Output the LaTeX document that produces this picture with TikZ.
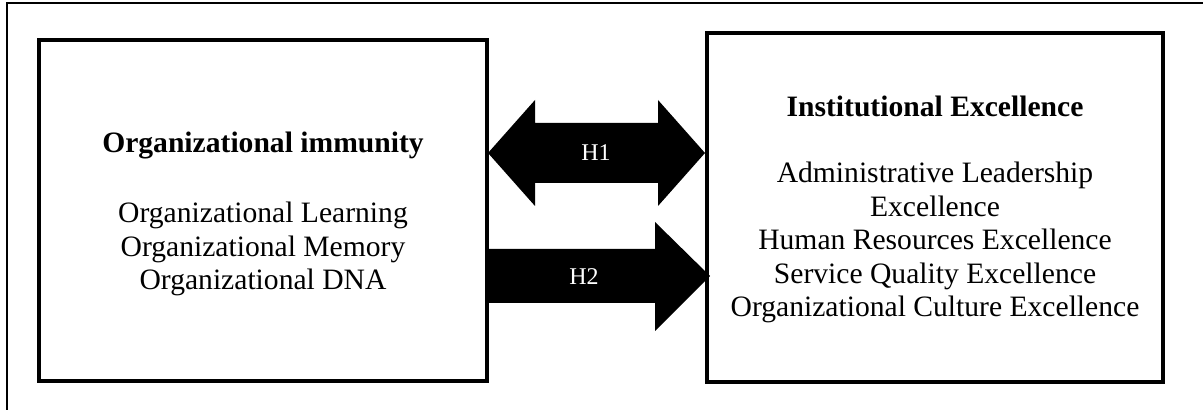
\documentclass[tikz,border=0pt]{standalone}
\usepackage{fontspec}
\setmainfont{Liberation Serif}
\usepackage{xcolor}
\usetikzlibrary{positioning}

\begin{document}
\begin{tikzpicture}[x=0.5pt,y=-0.5pt,
  varbox/.style={draw, line width=2pt},
  body/.style={font=\fontsize{14.8}{16.7}\selectfont, align=center, inner sep=0pt},
  hlabel/.style={text=white, font=\fontsize{12}{14}\selectfont, inner sep=0pt}]
\useasboundingbox (0,0) rectangle (1203,410);
\clip (0,0) rectangle (1203,410);
% outer frame
\draw[line width=1pt] (7,3) rectangle (1230,440);
% the two boxes
\draw[varbox] (39,40) coordinate (immunityNW) rectangle (487,381) coordinate (immunitySE);
\draw[varbox] (707,33) coordinate (excellenceNW) rectangle (1163,382) coordinate (excellenceSE);
\node[body, anchor=base] (immunityTitle) at (263,153) {\textbf{Organizational immunity}};
\node[body, anchor=north] (immunityList) at (263,202)
  {Organizational Learning\\Organizational Memory\\Organizational DNA};
\node[body, anchor=base] (excellenceTitle) at (935,117) {\textbf{Institutional Excellence}};
\node[body, anchor=north] (excellenceList) at (935,162)
  {Administrative Leadership\\Excellence\\Human Resources Excellence\\Service Quality Excellence\\Organizational Culture Excellence};
% H1: two-headed arrow
\fill (488,153) -- (535,100) -- (535,123) -- (658,123) -- (658,100) -- (705,153)
  -- (658,206) -- (658,183) -- (535,183) -- (535,206) -- cycle;
\node[hlabel, anchor=base] (hOne) at (596,161) {H1};
% H2: one-headed arrow
\fill (487,249) -- (655,249) -- (655,222) -- (710,276) -- (655,331) -- (655,303)
  -- (487,303) -- cycle;
\node[hlabel, anchor=base] (hTwo) at (584,285) {H2};
\end{tikzpicture}
\end{document}
